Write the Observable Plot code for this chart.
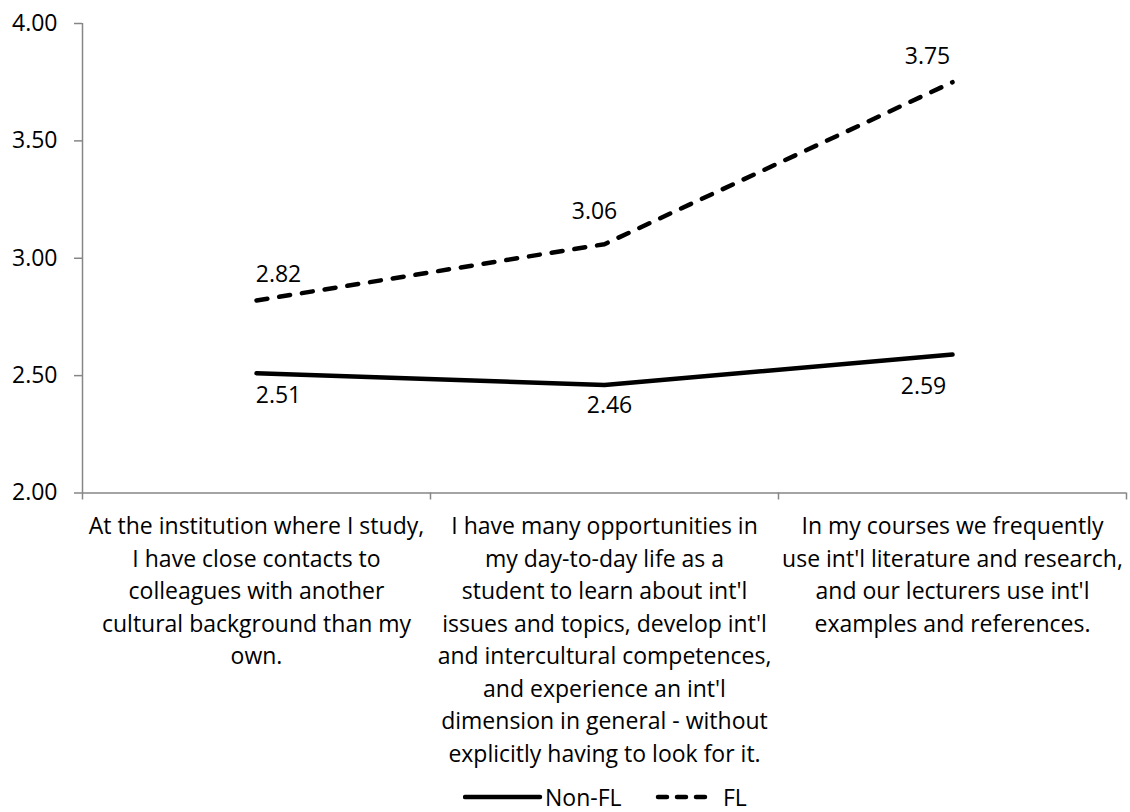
<!DOCTYPE html>
<html>
<head>
<meta charset="utf-8">
<script src="https://cdn.jsdelivr.net/npm/d3@7"></script>
<script src="https://cdn.jsdelivr.net/npm/@observablehq/plot@0.6"></script>
<style>
  html, body { margin: 0; padding: 0; background: #fff; }
  #chart { width: 1130px; font-family: "Open Sans", Lato, sans-serif; }
  .legend { position: relative; height: 34px; font-size: 23px; color: #000; }
  .legend .item { position: absolute; top: 3px; display: flex; align-items: center; gap: 2px; }
  .legend svg { display: block; }
</style>
</head>
<body>
<div id="chart"></div>
<script>
// Survey statements (x categories), pre-wrapped for display
const categories = [
  "At the institution where I study,\nI have close contacts to\ncolleagues with another\ncultural background than my\nown.",
  "I have many opportunities in\nmy day-to-day life as a\nstudent to learn about int'l\nissues and topics, develop int'l\nand intercultural competences,\nand experience an int'l\ndimension in general - without\nexplicitly having to look for it.",
  "In my courses we frequently\nuse int'l literature and research,\nand our lecturers use int'l\nexamples and references."
];
const seriesNames = ["Non-FL", "FL"];
const nonFL = [2.51, 2.46, 2.59];
const fl = [2.82, 3.06, 3.75];
const yTicks = [2.0, 2.5, 3.0, 3.5, 4.0];

// Value-label nudges (px) so the labels sit clear of the lines
const labelDx = { "Non-FL": [22, 5, -29], "FL": [22, -10, -25] };
const labelDy = { "Non-FL": [22, 21, 32], "FL": [-26, -33, -26] };

const rows = categories.flatMap((c, i) => [
  { i, series: seriesNames[0], value: nonFL[i] },
  { i, series: seriesNames[1], value: fl[i] }
]);
const bounds = d3.range(categories.length + 1).map(k => k - 0.5);

const FS = 23;
const axisGray = "#868686";
const fmt = d3.format(".2f");

const plot = Plot.plot({
  width: 1130,
  height: 778,
  marginLeft: 82,
  marginRight: 4,
  marginTop: 23,
  marginBottom: 778 - 492.5,
  style: { fontFamily: "'Open Sans', Lato, sans-serif", fontSize: FS + "px", color: "#000", background: "#fff" },
  x: { domain: [-0.5, categories.length - 0.5], axis: null },
  y: { domain: [2, 4], axis: null },
  marks: [
    // axis lines
    Plot.ruleX([-0.5], { stroke: axisGray, strokeWidth: 1.5 }),
    Plot.ruleY([2], { stroke: axisGray, strokeWidth: 1.5 }),
    // y ticks and labels
    Plot.axisY(yTicks, {
      label: null, tickSize: 8, tickPadding: 17, stroke: axisGray, strokeWidth: 1.5,
      fill: "#000", fontSize: FS, tickFormat: fmt
    }),
    // x tick marks at category boundaries
    Plot.axisX(bounds, {
      label: null, tickSize: 7, stroke: axisGray, strokeWidth: 1.5, tickFormat: () => ""
    }),
    // category labels
    Plot.text(categories, {
      x: (d, i) => i, y: () => 2, text: d => d,
      lineAnchor: "top", dy: 18, lineHeight: 32.5 / FS,
      fontSize: FS, fill: "#000", textAnchor: "middle"
    }),
    // series lines
    Plot.line(rows.filter(d => d.series === "Non-FL"), {
      x: "i", y: "value", stroke: "#000", strokeWidth: 4.5,
      strokeLinecap: "round", strokeLinejoin: "round"
    }),
    Plot.line(rows.filter(d => d.series === "FL"), {
      x: "i", y: "value", stroke: "#000", strokeWidth: 4.5,
      strokeLinecap: "round", strokeLinejoin: "round", strokeDasharray: "11,12"
    }),
    // value labels
    ...seriesNames.map(s => Plot.text(rows.filter(d => d.series === s), {
      x: "i", y: "value", text: d => fmt(d.value),
      fontSize: FS, fill: "#000",
      render: (index, scales, values, dims, context, next) => {
        const g = next(index, scales, values, dims, context);
        const subset = rows.filter(d => d.series === s);
        d3.select(g).selectAll("text").each(function (_, k) {
          const i = subset[index[k]].i;
          d3.select(this).attr("dx", labelDx[s][i]).attr("dy", labelDy[s][i]);
        });
        return g;
      }
    }))
  ]
});

const chart = document.getElementById("chart");
chart.appendChild(plot);

// Legend below the plot, centred on the plot area
const legend = document.createElement("div");
legend.className = "legend";
legend.innerHTML = `
  <div class="item" style="left:463px">
    <svg width="80" height="12"><line x1="2" y1="6" x2="77" y2="6" stroke="#000" stroke-width="4.5" stroke-linecap="round"/></svg>
    <span>${seriesNames[0]}</span>
  </div>
  <div class="item" style="left:655px">
    <svg width="54" height="12"><line x1="3" y1="6" x2="51" y2="6" stroke="#000" stroke-width="4.5" stroke-linecap="round" stroke-dasharray="9,10"/></svg>
    <span style="margin-left:12px">${seriesNames[1]}</span>
  </div>`;
chart.appendChild(legend);
</script>
</body>
</html>
